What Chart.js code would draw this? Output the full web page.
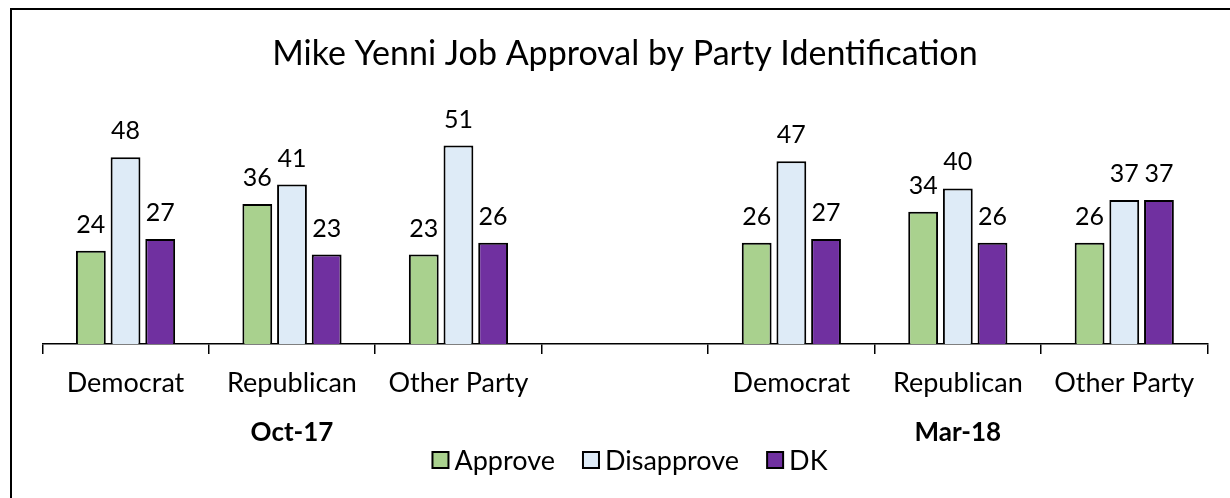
<!DOCTYPE html>
<html>
<head>
<meta charset="utf-8">
<script src="https://cdn.jsdelivr.net/npm/chart.js@4"></script>
<style>
  html, body { margin: 0; padding: 0; background: #fff; overflow: hidden; }
  #wrap { position: relative; width: 1230px; height: 498px; }
  #frame { position: absolute; left: 10px; top: 8px; width: 1240px; height: 520px; border: 2.5px solid #000; pointer-events: none; }
  canvas { position: absolute; left: 0; top: 0; }
</style>
</head>
<body>
<div id="wrap">
  <canvas id="c" width="1230" height="498"></canvas>
  <div id="frame"></div>
</div>
<script>
const title = 'Mike Yenni Job Approval by Party Identification';
const categories = ['Democrat', 'Republican', 'Other Party', '', 'Democrat', 'Republican', 'Other Party'];
const periods = ['Oct-17', 'Mar-18'];
const periodIndex = [1, 5]; // category under which each period label sits

const approve    = [24, 36, 23, null, 26, 34, 26];
const disapprove = [48, 41, 51, null, 47, 40, 37];
const dk         = [27, 23, 26, null, 27, 26, 37];

Chart.defaults.font.family = 'Lato, "Open Sans", sans-serif';
Chart.defaults.color = '#000';

// value labels above each bar
const valueLabels = {
  id: 'valueLabels',
  afterDatasetsDraw(chart) {
    const ctx = chart.ctx;
    ctx.save();
    ctx.font = '25px Lato';
    ctx.fillStyle = '#000';
    ctx.textAlign = 'center';
    ctx.textBaseline = 'alphabetic';
    chart.data.datasets.forEach((ds, i) => {
      chart.getDatasetMeta(i).data.forEach((bar, j) => {
        const v = ds.data[j];
        if (v == null) return;
        ctx.fillText(String(v), bar.x, bar.y - 18);
      });
    });
    ctx.restore();
  }
};

// title, period labels, legend
const extras = {
  id: 'extras',
  afterDraw(chart) {
    const ctx = chart.ctx;
    const area = chart.chartArea;
    const x = chart.scales.x;
    ctx.save();
    ctx.fillStyle = '#000';
    ctx.textAlign = 'center';
    ctx.textBaseline = 'alphabetic';
    ctx.font = '34px Lato';
    ctx.fillText(title, (area.left + area.right) / 2, 65);

    ctx.font = 'bold 26px Lato';
    periods.forEach((p, i) => {
      ctx.fillText(p, x.getPixelForValue(periodIndex[i]), 441);
    });

    // legend
    ctx.font = '27px Lato';
    ctx.textAlign = 'left';
    ctx.textBaseline = 'middle';
    const box = 16, gap = 6, spacing = 28, cy = 460;
    const items = chart.data.datasets.map(ds => ({ text: ds.label, color: ds.backgroundColor }));
    let total = 0;
    items.forEach((it, i) => {
      it.w = box + gap + ctx.measureText(it.text).width;
      total += it.w + (i ? spacing : 0);
    });
    let lx = 630 - total / 2;
    items.forEach(it => {
      ctx.fillStyle = it.color;
      ctx.fillRect(lx, cy - box / 2, box, box);
      ctx.lineWidth = 2;
      ctx.strokeStyle = '#000';
      ctx.strokeRect(lx, cy - box / 2, box, box);
      ctx.fillStyle = '#000';
      ctx.fillText(it.text, lx + box + gap, cy + 1);
      lx += it.w + spacing;
    });
    ctx.restore();
  }
};

new Chart(document.getElementById('c'), {
  type: 'bar',
  data: {
    labels: categories,
    datasets: [
      { label: 'Approve', data: approve, backgroundColor: '#A9D18E' },
      { label: 'Disapprove', data: disapprove, backgroundColor: '#DEEBF7' },
      { label: 'DK', data: dk, backgroundColor: '#7030A0' }
    ]
  },
  options: {
    responsive: false,
    devicePixelRatio: 1,
    animation: false,
    layout: { padding: { left: 42.3, right: 22.5, top: 110.6, bottom: 0 } },
    datasets: {
      bar: {
        borderColor: '#000',
        borderWidth: 2,
        borderSkipped: 'bottom',
        categoryPercentage: 0.625,
        barPercentage: 0.86
      }
    },
    plugins: {
      legend: { display: false },
      title: { display: false },
      tooltip: { enabled: false }
    },
    scales: {
      y: { display: false, min: 0, max: 60 },
      x: {
        offset: true,
        grid: {
          offset: true,
          drawOnChartArea: false,
          drawTicks: true,
          tickLength: 10,
          color: '#000',
          lineWidth: 1.5
        },
        border: { display: true, color: '#000', width: 1.5 },
        ticks: {
          font: { size: 27 },
          color: '#000',
          padding: 13,
          maxRotation: 0,
          autoSkip: false
        },
        afterFit(scale) { scale.height = 154; }
      }
    }
  },
  plugins: [valueLabels, extras]
});
</script>
</body>
</html>
